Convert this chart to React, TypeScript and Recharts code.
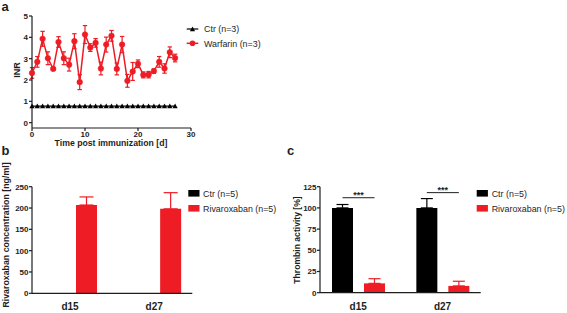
import { Bar, BarChart, ComposedChart, ErrorBar, LabelList, Line, XAxis, YAxis } from 'recharts'

// panel a – INR over time
const days = [0, 1, 2, 3, 4, 5, 6, 7, 8, 9, 10, 11, 12, 13, 14, 15, 16, 17, 18, 19, 20, 21, 22, 23, 24, 25, 26, 27]
const ctrINR = [0.78, 0.78, 0.78, 0.78, 0.78, 0.78, 0.78, 0.78, 0.78, 0.78, 0.78, 0.78, 0.78, 0.78, 0.78, 0.78, 0.78, 0.78, 0.78, 0.78, 0.78, 0.78, 0.78, 0.78, 0.78, 0.78, 0.78, 0.78]
const warfarinINR = [2.33, 2.85, 3.93, 3.02, 2.52, 3.78, 3.02, 2.72, 3.82, 1.9, 4.13, 3.52, 3.74, 2.54, 3.66, 4.07, 2.52, 3.66, 1.96, 2.4, 2.76, 2.24, 2.25, 2.42, 2.85, 2.54, 3.3, 3.03]
const warfarinSD = [0.25, 0.25, 0.35, 0.3, 0.05, 0.25, 0.3, 0.3, 0.35, 0.35, 0.42, 0.18, 0.2, 0.3, 0.35, 0.25, 0.28, 0.38, 0.3, 0.42, 0.18, 0.14, 0.15, 0.1, 0.25, 0.22, 0.25, 0.18]
const dayTicks = [0, 10, 20, 30]
const inrTicks = [0, 1, 2, 3, 4, 5]

// panels b and c
const timepoints = ['d15', 'd27']
const rivaConcCtr = [0, 0]
const rivaConc = [207, 198]
const rivaConcSD = [19, 38]
const concTicks = [0, 50, 100, 150, 200, 250]

const thrombinCtr = [100, 100]
const thrombinCtrSD = [4, 11]
const thrombinRiva = [11, 8]
const thrombinRivaSD = [5.5, 5.5]
const sigLevels = [112, 118]
const thrombinTicks = [0, 25, 50, 75, 100, 125]

const RED = '#ee1c25'
const INK = '#1e1e1e'
const FONT = '"Liberation Sans", Arial, sans-serif'

const inrData = days.map((d, i) => ({ day: d, ctr: ctrINR[i], warfarin: warfarinINR[i], sd: warfarinSD[i] }))
const concData = timepoints.map((t, i) => ({ t, ctr: rivaConcCtr[i], riva: rivaConc[i], rivaErr: [0, rivaConcSD[i]] }))
const thrombinData = timepoints.map((t, i) => ({
  t, ctr: thrombinCtr[i], riva: thrombinRiva[i], ctrErr: [0, thrombinCtrSD[i]], rivaErr: [0, thrombinRivaSD[i]],
}))

const numTick = { fontSize: 8, fontWeight: 'bold', fill: INK, fontFamily: FONT }
const catTick = { fontSize: 10, fontWeight: 'bold', fill: INK, fontFamily: FONT }
const axisLine = { stroke: INK, strokeWidth: 1.2 }

function TriangleDot(props: any) {
  const { cx, cy, index } = props
  if (cx == null || cy == null) return null
  return <polygon key={index} points={`${cx - 2.6},${cy + 2.2} ${cx + 2.6},${cy + 2.2} ${cx},${cy - 2.6}`} fill="#000" />
}

const BAR_GAP = 11

function SigMark(props: any) {
  const { x, y, width, height, index } = props
  const value = thrombinCtr[index]
  const py = y + height - (sigLevels[index] / value) * height
  const x1 = x + width / 2
  const x2 = x1 + width + BAR_GAP
  return (
    <g>
      <line x1={x1} x2={x2} y1={py} y2={py} stroke={INK} strokeWidth={1} />
      <text x={(x1 + x2) / 2} y={py} textAnchor="middle" fontSize={9} fontWeight="bold" fill={INK} fontFamily={FONT}>***</text>
    </g>
  )
}

function LegendText({ x, y, children }: any) {
  return <text x={x} y={y + 3.2} fontSize={8.9} fill={INK} fontFamily={FONT}>{children}</text>
}

export default function App() {
  return (
    <div style={{ position: 'absolute', left: 0, top: 0, width: 567, height: 313, background: '#fff', overflow: 'hidden' }}>
      <div style={{ position: 'absolute', left: 0, top: 0 }}>
        <ComposedChart width={200} height={150} data={inrData} margin={{ top: 16, right: 9, bottom: 2, left: 2 }}>
          <XAxis dataKey="day" type="number" domain={[0, 30]} ticks={dayTicks} height={20} tickSize={3} tickMargin={0}
            axisLine={axisLine} tickLine={axisLine} tick={numTick} />
          <YAxis type="number" domain={[-0.25, 5]} ticks={inrTicks} width={30} tickSize={3} tickMargin={1}
            axisLine={axisLine} tickLine={axisLine} tick={numTick} />
          <Line dataKey="ctr" stroke="#000" strokeWidth={1.2} dot={TriangleDot} isAnimationActive={false} />
          <Line dataKey="warfarin" stroke={RED} strokeWidth={1.5} dot={{ r: 2.8, fill: RED, stroke: RED, strokeWidth: 0.5 }} isAnimationActive={false}>
            <ErrorBar dataKey="sd" width={2.2} stroke={RED} strokeWidth={1.2} direction="y" />
          </Line>
          <text x={111} y={146} textAnchor="middle" fontSize={8.7} fontWeight="bold" fill={INK} fontFamily={FONT}>Time post immunization [d]</text>
          <text transform="translate(20,70) rotate(-90)" textAnchor="middle" fontSize={9} fontWeight="bold" fill={INK} fontFamily={FONT}>INR</text>
        </ComposedChart>
      </div>

      <div style={{ position: 'absolute', left: 0, top: 150 }}>
        <BarChart width={200} height={163} data={concData} margin={{ top: 36.7, right: 7.7, bottom: 0, left: 2 }} barSize={21} barGap={BAR_GAP}>
          <XAxis dataKey="t" height={19.7} tickLine={false} axisLine={axisLine} tick={catTick} tickMargin={4} padding={{ left: -4, right: -4 }} />
          <YAxis domain={[0, 250]} ticks={concTicks} width={30} tickSize={3} tickMargin={0.5} axisLine={axisLine} tickLine={axisLine} tick={numTick} />
          <Bar dataKey="ctr" fill="#000" isAnimationActive={false} />
          <Bar dataKey="riva" fill={RED} isAnimationActive={false}>
            <ErrorBar dataKey="rivaErr" width={7} stroke={RED} strokeWidth={1.2} direction="y" />
          </Bar>
          <text transform="translate(9,85) rotate(-90)" textAnchor="middle" fontSize={8.8} fontWeight="bold" fill={INK} fontFamily={FONT}>Rivaroxaban concentration [ng/ml]</text>
        </BarChart>
      </div>

      <div style={{ position: 'absolute', left: 290, top: 150 }}>
        <BarChart width={200} height={163} data={thrombinData} margin={{ top: 36.7, right: 9.3, bottom: 0, left: 0 }} barSize={21} barGap={BAR_GAP}>
          <XAxis dataKey="t" height={20.3} tickLine={false} axisLine={axisLine} tick={catTick} tickMargin={4} padding={{ left: -4, right: -4 }} />
          <YAxis domain={[0, 125]} ticks={thrombinTicks} width={30} tickSize={3} tickMargin={0.5} axisLine={axisLine} tickLine={axisLine} tick={numTick} />
          <Bar dataKey="ctr" fill="#000" isAnimationActive={false}>
            <ErrorBar dataKey="ctrErr" width={6} stroke="#000" strokeWidth={1.2} direction="y" />
            <LabelList dataKey="ctr" content={SigMark} />
          </Bar>
          <Bar dataKey="riva" fill={RED} isAnimationActive={false}>
            <ErrorBar dataKey="rivaErr" width={6} stroke={RED} strokeWidth={1.2} direction="y" />
          </Bar>
          <text transform="translate(9.5,90) rotate(-90)" textAnchor="middle" fontSize={8.6} fontWeight="bold" fill={INK} fontFamily={FONT}>Thrombin activity [%]</text>
        </BarChart>
      </div>

      <svg width={567} height={313} style={{ position: 'absolute', left: 0, top: 0, pointerEvents: 'none' }}>
        <text x={1.5} y={11} fontSize={13} fontWeight="bold" fill={INK} fontFamily={FONT}>a</text>
        <text x={1.5} y={155} fontSize={13} fontWeight="bold" fill={INK} fontFamily={FONT}>b</text>
        <text x={287} y={155} fontSize={13} fontWeight="bold" fill={INK} fontFamily={FONT}>c</text>

        <line x1={186.7} x2={198.3} y1={29} y2={29} stroke="#000" strokeWidth={1.2} />
        <polygon points="189.9,31.2 195.1,31.2 192.5,26.4" fill="#000" />
        <LegendText x={204} y={29}>Ctr (n=3)</LegendText>
        <line x1={186.7} x2={198.3} y1={43.3} y2={43.3} stroke={RED} strokeWidth={1.5} />
        <circle cx={192.5} cy={43.3} r={2.8} fill={RED} />
        <LegendText x={204} y={43.3}>Warfarin (n=3)</LegendText>

        <rect x={188.3} y={190} width={11.2} height={6.6} fill="#000" />
        <LegendText x={203} y={193.3}>Ctr (n=5)</LegendText>
        <rect x={188.3} y={205} width={11.2} height={6.6} fill={RED} />
        <LegendText x={203} y={208.3}>Rivaroxaban (n=5)</LegendText>

        <rect x={476.7} y={190} width={11.2} height={6.6} fill="#000" />
        <LegendText x={491.7} y={193.3}>Ctr (n=5)</LegendText>
        <rect x={476.7} y={205} width={11.2} height={6.6} fill={RED} />
        <LegendText x={491.7} y={208.3}>Rivaroxaban (n=5)</LegendText>
      </svg>
    </div>
  )
}
